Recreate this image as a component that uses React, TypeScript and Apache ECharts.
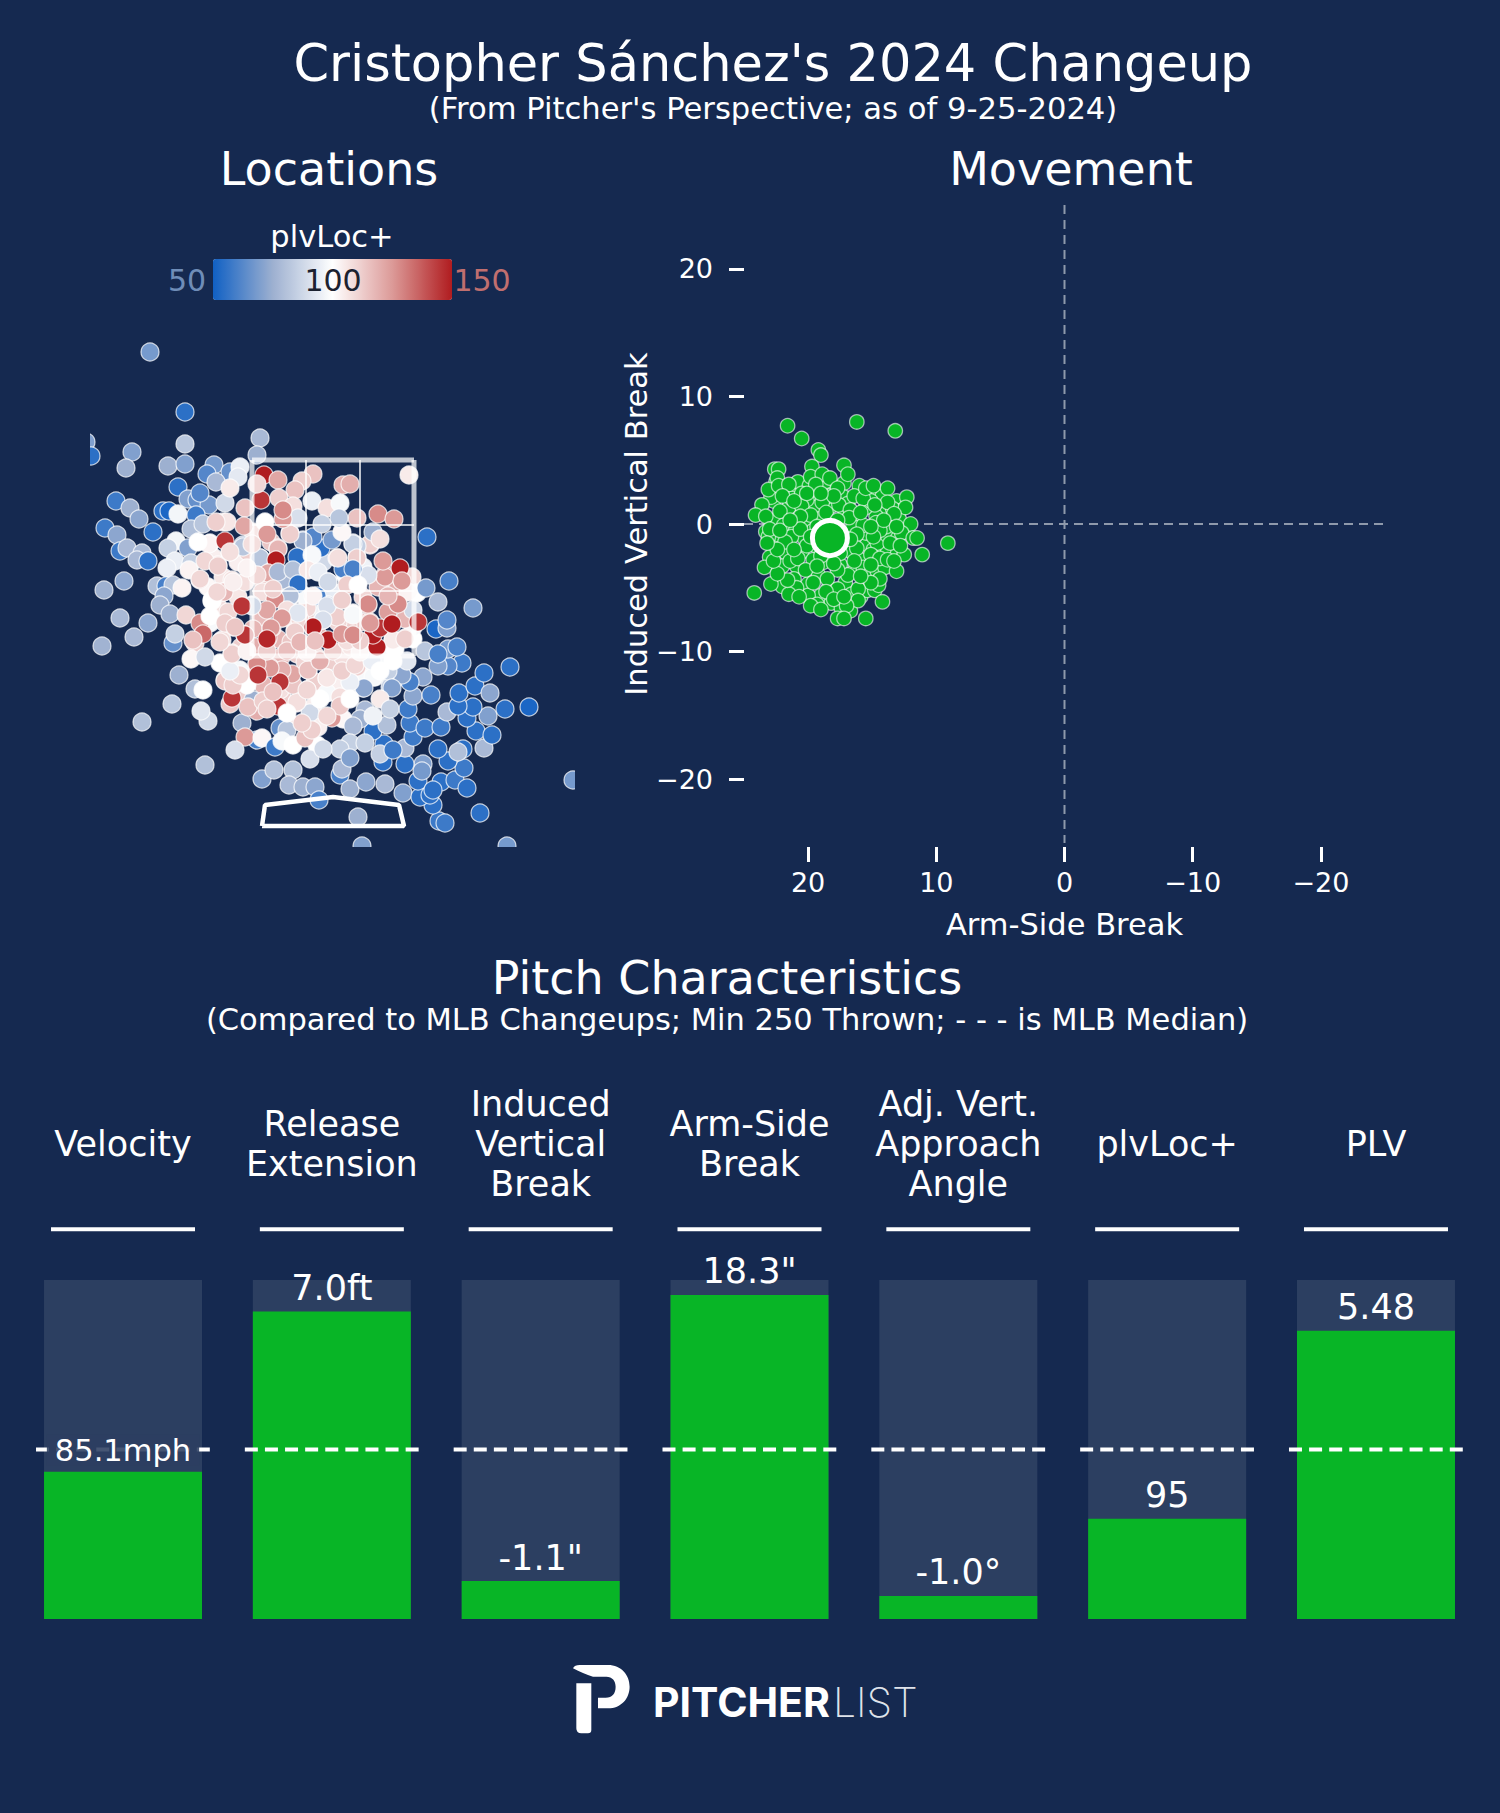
import React, {useEffect, useRef} from 'react';
import * as echarts from 'echarts';

const BG = '#152950';
const GREEN = '#08b526';
const TRACK = '#2c3f61';
const FONT = '"DejaVu Sans"';

// plate x (ft), plate z (ft), plvLoc+
const locationPitches = [
    [-1.20,2.90,104],[-1.10,2.70,106],[-1.25,2.60,102],[-1.15,2.40,108],[-1.05,2.35,110],[-0.95,2.50,106],[-0.95,2.85,104],[-0.85,2.95,112],
    [-0.70,2.65,114],[-0.72,2.30,116],[-0.80,2.18,118],[-0.92,2.00,112],[-0.78,2.00,120],[-0.55,2.08,118],[-0.42,2.05,114],[-0.52,1.90,118],
    [-0.36,1.93,112],[-0.18,1.92,110],[-0.05,1.85,112],[0.10,1.90,108],[0.18,2.00,106],[0.35,1.98,102],[0.50,1.90,98],[0.62,1.98,100],
    [0.80,2.08,100],[0.80,2.20,98],[0.72,2.28,118],[0.55,2.35,124],[0.28,2.25,114],[0.15,2.22,112],[-0.15,2.12,116],[-0.28,2.30,112],
    [-0.10,2.35,96],[0.00,2.55,94],[0.12,2.72,100],[0.30,2.50,110],[0.60,2.58,120],[0.30,2.80,96],[-0.10,2.85,88],[-0.45,2.62,92],
    [-0.60,2.85,112],[-0.62,3.05,114],[-0.80,3.15,106],[-0.68,3.25,100],[-0.95,1.55,112],[-0.70,1.62,118],[-0.62,1.48,116],[-0.50,1.48,112],
    [-0.20,1.40,104],[0.05,1.62,104],[0.30,1.72,98],[-0.18,1.65,112],[-0.80,1.72,118],[0.10,1.28,102],[-0.15,1.20,104],[-0.45,1.25,106],
    [-1.10,3.25,108],[-1.23,3.04,102],[-1.03,2.95,110],[-1.15,2.82,112],[-1.33,2.67,110],[-1.01,2.67,108],[-1.10,2.55,118],[-1.21,2.47,100],
    [-1.00,2.20,112],[-1.11,2.07,108],[-1.23,2.24,98],[-1.38,2.04,112],[-1.01,1.94,112],[-1.13,1.84,100],[-1.01,1.77,96],[-0.93,1.77,98],
    [-1.08,1.67,115],[-0.76,1.84,125],[-0.63,1.80,120],[-0.43,1.72,122],[-0.25,1.77,118],[-0.06,1.69,110],[-0.13,1.87,118],[-0.28,1.85,110],
    [-0.53,1.57,108],[-0.26,1.57,118],[-0.36,1.44,108],[-0.06,1.54,98],[0.17,1.65,96],[0.07,1.50,108],[0.24,1.80,112],[0.54,1.76,85],
    [0.42,1.70,96],[0.30,1.59,78],[0.57,1.60,85],[0.70,1.70,70],[0.39,1.89,90],[0.60,2.07,104],[0.72,2.09,110],[0.37,2.25,122],
    [0.65,2.44,128],[0.35,2.42,128],[0.47,2.62,115],[0.52,2.72,125],[0.69,2.67,125],[0.79,2.70,110],[0.84,2.54,100],[0.24,2.65,100],
    [0.09,2.47,108],[0.20,2.34,102],[-0.10,2.27,90],[-0.05,2.42,85],[0.05,2.25,110],[-0.20,2.20,148],[-0.38,2.17,112],[-0.50,2.29,118],
    [-0.61,2.19,125],[-0.65,2.09,145],[-0.88,2.12,145],[-0.58,2.49,128],[-0.71,2.55,108],[-0.81,2.42,88],[-0.35,2.34,92],[-0.26,2.39,110],
    [-0.43,2.50,96],[-0.30,2.52,98],[-0.25,2.79,108],[-0.05,2.65,85],[0.04,2.89,108],[0.24,2.90,110],[0.37,3.02,118],[-0.50,2.67,78],
    [-0.55,2.99,118],[-0.43,3.14,112],[-0.73,2.89,82],[-0.90,3.02,82],[-0.30,3.07,78],[-0.65,2.74,125],[-0.80,2.79,108],[0.20,3.04,80],
    [-2.47,4.05,70],[-1.83,4.95,68],[-1.48,4.35,55],[-1.48,4.03,82],[-0.73,4.09,78],[-2.01,3.95,70],[-2.42,3.91,55],[-2.07,3.79,75],
    [-1.65,3.81,75],[-1.48,3.83,70],[-0.76,3.92,75],[-1.19,3.82,68],[-1.26,3.73,62],[-1.03,3.75,65],[-0.93,3.80,95],[-0.95,3.70,93],
    [-1.17,3.65,78],[-1.55,3.60,55],[-1.45,3.48,70],[-1.36,3.47,65],[-1.24,3.42,68],[-1.33,3.54,62],[-2.17,3.46,58],[-2.03,3.39,75],
    [-1.94,3.28,72],[-1.70,3.36,55],[-1.64,3.36,52],[-1.55,3.33,97],[-1.37,3.32,58],[-2.28,3.19,58],[-2.16,3.12,72],[-1.80,3.15,55],
    [-1.42,3.18,80],[-1.30,3.23,82],[-1.08,3.44,88],[-1.03,3.59,105],[-0.88,3.39,115],[-1.06,3.25,106],[-1.17,3.25,112],[-0.89,3.21,122],
    [-1.57,3.06,97],[-1.45,2.99,70],[-1.24,3.03,103],[-1.35,3.05,100],[-1.08,3.06,145],[-0.90,3.00,82],[-1.03,2.95,108],[-2.13,2.96,58],
    [-2.06,2.99,78],[-1.91,2.94,78],[-1.96,2.87,78],[-1.85,2.86,55],[-1.65,2.99,85],[-1.58,2.86,95],[-1.66,2.79,95],[-1.42,2.84,85],
    [-1.44,2.77,103],[-1.28,2.86,110],[-1.15,2.81,112],[-2.09,2.66,72],[-2.29,2.57,75],[-1.76,2.61,80],[-1.67,2.61,60],[-1.60,2.62,82],
    [-1.51,2.59,103],[-1.33,2.68,110],[-1.69,2.51,72],[-1.73,2.42,75],[-1.63,2.33,75],[-1.47,2.32,110],[-1.33,2.24,128],[-1.30,2.13,135],
    [-1.60,2.04,65],[-1.58,2.13,85],[-2.13,2.29,78],[-1.85,2.24,72],[-1.99,2.10,78],[-2.31,2.01,76],[-1.40,2.07,115],[-1.42,1.88,102],
    [-1.28,1.90,88],[-1.54,1.72,75],[-1.38,1.58,80],[-1.30,1.57,100],[-1.61,1.43,82],[-1.25,1.26,88],[-1.32,1.36,92],[-1.91,1.25,80],
    [-1.28,0.82,80],[-1.08,1.66,113],[-1.03,1.43,113],[-1.01,1.49,145],[-0.80,1.47,75],[-0.91,1.24,75],[-0.76,1.07,60],[-0.88,1.10,125],
    [-0.71,1.09,102],[-0.98,0.97,90],[-0.58,1.00,58],[-0.53,1.19,65],[-0.46,1.17,82],[-0.51,1.06,98],[-0.40,1.02,100],[-0.71,0.68,70],
    [-0.59,0.77,80],[-0.40,0.77,80],[-0.44,0.62,78],[-0.30,0.60,75],[-0.18,0.60,72],[-0.14,0.47,60],[0.07,0.72,60],[0.09,0.78,78],
    [0.17,0.58,75],[0.33,0.65,72],[0.52,0.63,78],[0.70,0.54,70],[0.25,0.30,75],[0.29,0.01,70],[1.74,0.01,68],[2.40,0.67,68],
    [1.47,0.34,55],[1.06,0.26,58],[1.12,0.24,58],[1.00,0.42,55],[0.87,0.50,55],[0.97,0.52,55],[0.85,0.66,55],[1.08,0.65,55],
    [1.00,0.57,55],[1.22,0.67,58],[1.34,0.59,55],[1.31,0.79,58],[1.15,0.86,55],[0.90,0.83,70],[0.89,0.76,68],[0.72,0.83,55],
    [0.72,0.99,78],[0.50,0.85,55],[0.51,1.03,55],[0.47,0.93,85],[0.60,0.97,58],[0.40,1.16,55],[0.54,1.22,80],[0.80,1.10,58],
    [0.77,1.24,58],[0.92,1.19,58],[1.08,1.20,58],[0.75,1.38,58],[0.80,1.51,72],[0.98,1.52,60],[1.05,0.98,55],[1.30,0.98,55],
    [1.25,0.95,80],[1.51,0.99,78],[1.43,1.16,55],[1.59,1.12,55],[1.55,1.31,70],[1.34,1.29,55],[1.40,1.40,55],[1.14,1.35,78],
    [1.25,1.41,55],[1.26,1.54,55],[1.42,1.61,55],[1.57,1.54,72],[1.51,1.74,55],[1.72,1.38,55],[1.96,1.40,52],[1.77,1.80,55],
    [1.29,1.84,58],[1.15,1.81,62],[1.05,1.81,70],[1.15,1.98,68],[1.24,2.00,60],[1.03,2.18,52],[1.14,2.19,70],[1.14,2.27,62],
    [1.40,2.39,68],[1.05,2.45,78],[0.93,2.59,68],[1.16,2.66,60],[0.90,1.70,72],[0.77,1.65,60],[0.92,1.96,82],[0.94,3.10,55],
    [1.05,1.93,60],[0.69,1.72,72],[0.55,1.76,85],[0.40,1.70,98],[0.31,1.59,72],[0.59,1.59,70],[0.47,1.48,105],[0.57,1.38,85],
    [0.32,1.37,78],[0.27,1.28,75],[0.20,1.21,78],[0.17,1.04,85],[0.32,1.04,85],[0.07,0.98,85],[-0.16,1.02,100],[-0.23,0.88,90],
    [-0.10,0.98,88],[0.17,0.89,70],[0.17,1.65,95],[0.40,1.31,96],[-0.23,1.34,88],[0.74,1.86,92],[0.80,2.37,88],[0.75,2.55,103],
    [-0.01,1.29,125],[0.07,1.41,113],[-0.28,1.09,115],[-0.21,1.17,112],[-0.31,1.24,112],[-0.55,1.41,145],[-0.36,1.45,108],[-0.76,1.36,120],
    [-0.85,1.40,115],[-0.70,1.46,112],[-0.66,1.38,112],[-0.46,1.34,100],[-0.06,1.31,110],[0.17,1.48,100],[-0.13,1.48,100],[-0.40,1.62,114],
    [-0.86,1.62,100],[-1.00,1.62,112],[-0.06,1.69,106],[-0.26,1.57,110],[-0.41,1.73,122],[-0.25,1.77,115],[-0.51,1.77,120],[-0.53,1.65,145],
    [-0.63,1.79,125],[-0.76,1.83,128],[-0.75,1.72,145],[-0.93,1.72,110],[-1.03,1.76,95],[-0.60,1.55,115],[-1.01,1.93,112],[-0.13,1.86,120],
    [0.09,1.76,112],[0.22,1.82,110],[0.39,1.86,95],[0.47,1.76,100],[0.60,1.86,100],[-0.66,1.96,112],[-0.46,1.96,116],[-0.26,1.95,104],
    [0.00,1.96,112],[0.27,1.95,102],[-0.86,1.96,103],[0.60,2.07,105],[0.72,2.08,112],[0.44,2.00,150],[0.40,2.12,150],[0.47,2.19,145],
    [0.59,2.23,150],[0.85,2.25,145],[0.37,2.24,125],[0.65,2.43,128],[0.35,2.43,128],[0.45,2.60,118],[0.55,2.51,118],[0.52,2.70,125],
    [0.67,2.79,150],[0.69,2.66,125],[0.50,2.86,125],[0.37,3.03,112],[0.24,3.01,85],[0.20,3.03,85],[0.40,3.15,75],[0.47,3.08,108],
    [0.24,2.89,112],[0.35,2.72,90],[0.10,2.78,60],[0.20,2.78,60],[0.05,2.89,108],[-0.12,2.99,55],[-0.01,3.07,68],[0.09,3.15,102],
    [-0.20,3.10,62],[-0.30,3.06,75],[-0.36,2.90,55],[-0.21,2.92,98],[-0.43,3.13,112],[-0.66,3.13,125],[-0.55,2.98,118],[-0.73,2.89,82],
    [-0.57,2.87,150],[-0.65,2.74,122],[-0.55,2.75,78],[-0.40,2.77,80],[-0.25,2.77,106],[-0.35,2.63,55],[-0.15,2.75,95],[-0.05,2.65,88],
    [0.14,2.62,112],[0.25,2.62,100],[-0.16,2.51,60],[-0.43,2.51,80],[-0.58,2.48,128],[-0.66,2.37,122],[-0.81,2.41,88],[-0.91,2.41,145],
    [-1.09,2.55,118],[-1.21,2.46,100],[-0.88,2.65,108],[-0.81,3.03,108],[-0.76,2.72,110],[-1.00,2.65,104],[-1.16,2.55,110],[-1.23,2.31,100],
    [-1.08,2.24,112],[-0.86,2.79,103],[-0.60,2.58,112],[-0.46,2.37,108],[-0.33,2.27,110],[-0.20,2.51,103],[0.04,2.30,112],[0.14,2.06,108],
    [0.27,2.06,112],[-0.35,2.34,92],[-0.06,2.41,90],[0.09,2.47,112],[0.20,2.32,98],[-0.10,2.27,90],[-0.51,2.29,125],[-0.62,2.19,125],
    [-0.88,2.12,145],[-0.98,2.20,114],[-1.13,2.05,110],[-0.66,2.08,148],[-0.38,2.15,112],[-0.20,2.20,150],[-0.05,2.07,150],[0.09,2.13,125],
    [0.20,2.12,128],[-0.33,2.05,118],[-0.18,2.06,115],[-0.69,3.72,150],[-0.55,3.67,122],[-0.20,3.73,115],[-0.31,3.66,112],[-0.38,3.57,115],
    [-0.72,3.47,145],[-0.76,3.63,110],[-0.54,3.49,112],[-0.21,3.46,95],[-0.40,3.41,108],[-0.06,3.39,108],[0.07,3.44,98],[0.10,3.62,120],
    [0.17,3.63,120],[0.76,3.72,105],[0.45,3.33,128],[0.61,3.28,125],[0.24,3.29,115],[0.06,3.29,82],[-0.11,3.23,85],[-0.35,3.29,90],
    [-0.50,3.28,125],[-0.50,3.37,128]
];

// arm-side break (in), induced vertical break (in)
const movementPitches = [
    [21.2,2.6],[20.8,3.3],[19.2,2.2],[17.2,3.2],[16.0,3.0],[15.2,2.4],[14.2,2.2],[13.1,1.8],[12.9,1.0],[13.9,0.9],[14.7,0.6],[15.5,1.3],
    [16.2,0.8],[17.2,2.1],[17.1,0.9],[18.2,1.4],[19.5,1.3],[19.1,0.4],[20.1,1.9],[21.5,1.3],[22.7,1.8],[22.6,0.3],[21.9,-0.1],[21.0,-0.6],
    [20.0,0.2],[20.3,-1.1],[21.3,-1.0],[22.4,-1.1],[22.7,-1.9],[21.7,-2.3],[20.5,-2.2],[19.4,-1.7],[19.6,-2.8],[18.6,-2.1],[20.9,-3.3],[22.0,-3.3],
    [21.1,-4.3],[20.0,-4.7],[19.2,-4.0],[18.8,-3.0],[17.5,-3.2],[17.1,-4.6],[16.4,-3.7],[16.6,-2.2],[15.9,-2.8],[15.4,-1.6],[15.7,-3.4],[15.2,-4.0],
    [14.6,-3.7],[14.0,-3.4],[13.6,-2.2],[14.1,-2.0],[14.9,-2.0],[14.6,-1.5],[13.8,-0.9],[13.0,-1.1],[12.4,-0.3],[12.9,0.4],[13.9,-0.2],[14.7,0.1],
    [15.5,-0.7],[16.5,-0.2],[18.9,-0.5],[19.6,-0.5],[18.4,-5.0],[19.0,-5.6],[18.2,-6.2],[16.6,-5.5],[16.7,-6.8],[15.9,-5.7],[15.4,-5.2],[14.8,-5.2],
    [14.5,-4.8],[17.4,-6.6],[20.0,-5.6],[22.0,-4.9],[23.0,-2.6],[23.3,-0.6],[22.5,3.3],[22.9,2.1],[21.3,2.0],[19.9,3.0],[18.6,2.9],[18.3,2.2],
    [16.9,1.6],[15.1,1.8],[13.4,1.2],[18.7,3.3],
    [21.6,7.7],[20.5,6.7],[16.2,8.0],[13.2,7.3],[19.2,5.8],[19.0,5.4],[19.7,4.5],[17.2,4.6],[16.9,3.9],[22.6,4.3],[22.3,4.3],[22.4,3.6],
    [23.1,2.7],[22.3,3.0],[21.5,3.1],[22.0,2.2],[23.6,1.5],[24.1,0.7],[23.3,0.6],[22.2,1.0],[19.8,3.7],[18.9,3.9],[18.3,3.6],[19.4,3.1],
    [17.7,2.8],[20.5,2.4],[20.5,1.4],[18.9,1.7],[17.6,1.5],[16.4,2.2],[15.7,2.0],[15.5,2.8],[14.9,3.0],[13.8,2.8],[12.3,2.1],[12.4,1.3],
    [13.8,1.7],[14.8,1.5],[16.7,1.1],[16.8,0.5],[18.6,0.9],[19.8,0.7],[20.6,0.6],[13.3,0.8],[12.0,0.0],[12.7,-0.7],[11.8,-1.1],[11.5,-1.1],
    [11.1,-2.4],[9.1,-1.5],[12.5,-2.4],[13.6,-1.5],[14.4,-0.5],[15.7,-0.1],[16.2,-0.8],[16.2,-1.9],[15.1,-2.4],[14.4,-2.7],[15.1,-3.2],[13.1,-3.7],
    [14.4,-4.3],[15.1,-4.6],[16.9,-4.0],[17.7,-3.6],[18.5,-4.3],[17.7,-5.1],[18.6,-5.3],[16.1,-5.1],[16.1,-6.0],[17.0,-6.4],[14.2,-6.1],[15.5,-7.4],
    [17.7,-7.4],[17.2,-7.4],[19.3,-6.3],[19.8,-6.4],[19.0,-6.7],[20.9,-5.0],[21.5,-5.5],[20.7,-5.7],[21.6,-4.4],[22.9,-4.7],[24.2,-5.4],[23.4,-3.4],
    [22.4,-3.9],[22.7,-2.9],[21.4,-2.9],[20.8,-2.7],[20.2,-3.6],[21.8,-1.4],[23.1,-1.0],[23.0,-0.4],[22.2,-0.5],[20.6,-0.4],[20.1,-1.7],[21.1,-2.0],
    [19.0,-2.5],[19.6,-4.6],[18.0,-5.9],[17.2,-5.7],[12.8,-1.7],[13.8,-2.8],[13.3,-2.9],[16.7,-1.2],[17.5,-2.3],[18.0,-3.1],[19.3,-3.3],[16.4,-2.9],
    [15.9,-4.1],[14.9,-1.0],[14.1,0.3],[13.1,-0.2],[21.1,1.8],[21.4,0.3],[19.3,-0.2],[17.7,0.3],[15.9,0.9],[15.1,-0.2],[19.8,-1.0],[22.4,-2.0],
    [23.2,-1.5],[20.1,2.4],[18.0,2.2],[19.0,2.4]
];
const movementAverage = [18.3, -1.1];
const breakTicks = [-20, -10, 0, 10, 20];

const zoneX = [-0.81, -0.27, 0.27, 0.81];
const zoneZ = [1.91, 2.56, 3.22, 3.87];
const plateOutline = [[-0.71,0.21],[0.71,0.21],[0.66,0.42],[0,0.5],[-0.68,0.42],[-0.71,0.21]];

const statNames = ['Velocity', 'Release\nExtension', 'Induced\nVertical\nBreak', 'Arm-Side\nBreak', 'Adj. Vert.\nApproach\nAngle', 'plvLoc+', 'PLV'];
const statValues = ['85.1mph', '7.0ft', '-1.1"', '18.3"', '-1.0°', '95', '5.48'];
const statPercentiles = [43.4, 90.7, 11.2, 95.6, 6.8, 29.6, 85];
const trackValues = statPercentiles.map(() => 100);
const medianValue = 50;
const headerRuleValue = 115;

const PLOGO = 'M0 10 Q5 0 20 0 L105 0 C145 0 170 30 170 65 C170 100 145 130 105 130 L75 130 L75 98 L98 98 C118 98 128 85 128 65 C128 48 118 35 100 35 L60 35 C40 30 20 20 0 10 Z M10 55 L55 55 L55 195 Q55 205 45 205 L25 205 Q10 205 10 190 Z';
echarts.graphic.registerShape('plogo', echarts.graphic.extendPath(PLOGO, {}) as any);

const label = (text: string, x: number, y: number, size: number, extra: any = {}) => ({
    type: 'text',
    x,
    y,
    z: 100,
    style: {
        text,
        fill: '#ffffff',
        font: `${size}px ${FONT}`,
        textAlign: 'center',
        textVerticalAlign: 'middle',
        ...extra
    }
});

const lineSeries = (data: number[][], width: number, color: string, extra: any = {}) => ({
    type: 'line',
    data,
    symbol: 'none',
    silent: true,
    lineStyle: {width, color},
    ...extra
});

const statLine = (width: number, lineWidth: number, lineDash?: number[]) => (_: any, api: any) => {
    const [x, y] = api.coord([api.value(0), api.value(1)]);
    return {
        type: 'line',
        shape: {x1: x - width / 2, y1: y, x2: x + width / 2, y2: y},
        style: {stroke: '#ffffff', lineWidth, lineDash}
    };
};

const tickLabel = (v: number) => String(v).replace('-', '\u2212');

const buildOption = () => ({
    animation: false,
    backgroundColor: BG,
    textStyle: {fontFamily: FONT},
    grid: [
        {left: 90, top: 327, width: 485, height: 520},
        {left: 744, top: 205, width: 641, height: 638},
        {left: 18.6, top: 1280, width: 1461.8, height: 339}
    ],
    xAxis: [
        {type: 'value', gridIndex: 0, min: -2.43, max: 2.42, show: false},
        {
            type: 'value',
            gridIndex: 1,
            min: -25,
            max: 25,
            inverse: true,
            offset: 4,
            name: 'Arm-Side Break',
            nameLocation: 'middle',
            nameGap: 62,
            nameTextStyle: {color: '#ffffff', fontSize: 30.5, fontFamily: FONT},
            axisLine: {show: false, onZero: false},
            splitLine: {show: false},
            axisTick: {length: 15, lineStyle: {color: '#ffffff', width: 3}, customValues: breakTicks},
            axisLabel: {color: '#ffffff', fontSize: 27, margin: 22, fontFamily: FONT, customValues: breakTicks, formatter: tickLabel}
        },
        {
            type: 'category',
            gridIndex: 2,
            position: 'top',
            data: statNames,
            axisLine: {show: false},
            axisTick: {show: false},
            axisLabel: {
                color: '#ffffff',
                fontSize: 35,
                lineHeight: 40,
                margin: 136,
                verticalAlign: 'middle',
                interval: 0,
                fontFamily: FONT
            }
        }
    ],
    yAxis: [
        {type: 'value', gridIndex: 0, min: 0, max: 5.2, show: false},
        {
            type: 'value',
            gridIndex: 1,
            min: -25,
            max: 25,
            name: 'Induced Vertical Break',
            nameLocation: 'middle',
            nameGap: 89,
            nameRotate: 90,
            nameTextStyle: {color: '#ffffff', fontSize: 30.5, fontFamily: FONT},
            axisLine: {show: false, onZero: false},
            splitLine: {show: false},
            axisTick: {length: 15, lineStyle: {color: '#ffffff', width: 3}, customValues: breakTicks},
            axisLabel: {color: '#ffffff', fontSize: 27, margin: 31, fontFamily: FONT, customValues: breakTicks, formatter: tickLabel}
        },
        {type: 'value', gridIndex: 2, min: 0, max: 100, show: false}
    ],
    visualMap: {
        type: 'continuous',
        seriesIndex: 0,
        dimension: 2,
        min: 50,
        max: 150,
        orient: 'horizontal',
        left: 213,
        top: 259,
        padding: 0,
        itemWidth: 41,
        itemHeight: 239,
        text: ['', ''],
        calculable: false,
        hoverLink: false,
        inRange: {color: ['#1060c4', '#9db0d0', '#ffffff', '#dc9a98', '#b01c1f']}
    },
    series: [
        {
            type: 'scatter',
            xAxisIndex: 0,
            yAxisIndex: 0,
            data: locationPitches,
            clip: false,
            symbolSize: 18,
            itemStyle: {borderColor: 'rgba(255,255,255,0.75)', borderWidth: 1.2, opacity: 1}
        },
        ...zoneX.map((x, i) =>
            lineSeries(
                [[x, zoneZ[0]], [x, zoneZ[3]]],
                i === 0 || i === 3 ? 5 : 2,
                'rgba(255,255,255,0.72)',
                {xAxisIndex: 0, yAxisIndex: 0, z: 4}
            )
        ),
        ...zoneZ.map((z, i) =>
            lineSeries(
                [[zoneX[0], z], [zoneX[3], z]],
                i === 0 || i === 3 ? 5 : 2,
                'rgba(255,255,255,0.72)',
                {xAxisIndex: 0, yAxisIndex: 0, z: 4}
            )
        ),
        lineSeries(plateOutline, 4.5, '#ffffff', {xAxisIndex: 0, yAxisIndex: 0, z: 5}),
        lineSeries([[25, 0], [-25, 0]], 2, '#8e99ab', {xAxisIndex: 1, yAxisIndex: 1, z: 1, lineStyle: {width: 2, color: '#8e99ab', type: [9, 6]}}),
        lineSeries([[0, 25], [0, -25]], 2, '#8e99ab', {xAxisIndex: 1, yAxisIndex: 1, z: 1, lineStyle: {width: 2, color: '#8e99ab', type: [9, 6]}}),
        {
            type: 'scatter',
            xAxisIndex: 1,
            yAxisIndex: 1,
            z: 2,
            data: movementPitches,
            symbolSize: 14.5,
            itemStyle: {color: GREEN, borderColor: 'rgba(255,255,255,0.6)', borderWidth: 1.3, opacity: 1}
        },
        {
            type: 'scatter',
            xAxisIndex: 1,
            yAxisIndex: 1,
            z: 3,
            data: [movementAverage],
            symbolSize: 35,
            itemStyle: {color: GREEN, borderColor: '#ffffff', borderWidth: 5, opacity: 1}
        },
        {
            type: 'bar',
            xAxisIndex: 2,
            yAxisIndex: 2,
            z: 1,
            data: trackValues,
            barWidth: 158,
            barGap: '-100%',
            silent: true,
            itemStyle: {color: TRACK}
        },
        {
            type: 'bar',
            xAxisIndex: 2,
            yAxisIndex: 2,
            z: 2,
            data: statPercentiles,
            barWidth: 158,
            barGap: '-100%',
            itemStyle: {color: GREEN}
        },
        {
            type: 'custom',
            xAxisIndex: 2,
            yAxisIndex: 2,
            z: 3,
            silent: true,
            data: statNames.map((_, i) => [i, medianValue]),
            renderItem: statLine(174, 4, [13, 7.1])
        },
        {
            type: 'custom',
            xAxisIndex: 2,
            yAxisIndex: 2,
            z: 3,
            silent: true,
            data: statNames.map((_, i) => [i, headerRuleValue]),
            renderItem: statLine(144, 4)
        },
        {
            type: 'bar',
            xAxisIndex: 2,
            yAxisIndex: 2,
            z: 5,
            // velocity's label sits on the median line, so it hides the dashes behind it
            data: statPercentiles.map((value, i) =>
                i === 0
                    ? {value, label: {fontSize: 30.5, backgroundColor: 'rgba(44,63,97,0.88)', padding: [0, 8, 0, 8], textBorderWidth: 0}}
                    : value
            ),
            barWidth: 158,
            barGap: '-100%',
            silent: true,
            itemStyle: {color: 'transparent'},
            label: {
                show: true,
                position: 'top',
                distance: 6,
                color: '#ffffff',
                fontSize: 35,
                fontFamily: FONT,
                formatter: (p: any) => statValues[p.dataIndex]
            }
        }
    ],
    graphic: [
        // crop the pitches at the edge of the locations panel
        {type: 'rect', z: 90, shape: {x: 60, y: 327, width: 30, height: 530}, style: {fill: BG}},
        {type: 'rect', z: 90, shape: {x: 575, y: 327, width: 20, height: 530}, style: {fill: BG}},
        {type: 'rect', z: 90, shape: {x: 60, y: 847, width: 535, height: 22}, style: {fill: BG}},
        label("Cristopher Sánchez's 2024 Changeup", 773, 63, 51),
        label("(From Pitcher's Perspective; as of 9-25-2024)", 773, 108, 30.6),
        label('Locations', 329, 169, 46),
        label('Movement', 1071, 169, 46),
        label('plvLoc+', 332, 236, 30.5),
        label('50', 187, 280, 30, {fill: '#6f8db8'}),
        label('100', 333, 280, 30, {fill: '#1c2230'}),
        label('150', 482, 280, 30, {fill: '#c06f6f'}),
        label('Pitch Characteristics', 727, 978, 46),
        label('(Compared to MLB Changeups; Min 250 Thrown; - - - is MLB Median)', 727, 1019, 30.5),
        {type: 'plogo', x: 573, y: 1665, scaleX: 1 / 3, scaleY: 1 / 3, z: 100, style: {fill: '#ffffff'}},
        label('PITCHER', 653, 1702, 41, {textAlign: 'left', font: '700 41px Inter'}),
        label('LIST', 833, 1702, 41, {textAlign: 'left', font: '200 41px Inter', fill: '#dfe3ea'})
    ]
});

const App = () => {
    const ref = useRef<HTMLDivElement>(null);

    useEffect(() => {
        document.body.style.margin = '0';
        const chart = echarts.init(ref.current as HTMLDivElement, undefined, {renderer: 'svg'});
        chart.setOption(buildOption() as any);
        return () => chart.dispose();
    }, []);

    return <div ref={ref} style={{width: 1500, height: 1813}} />;
};

export default App;
